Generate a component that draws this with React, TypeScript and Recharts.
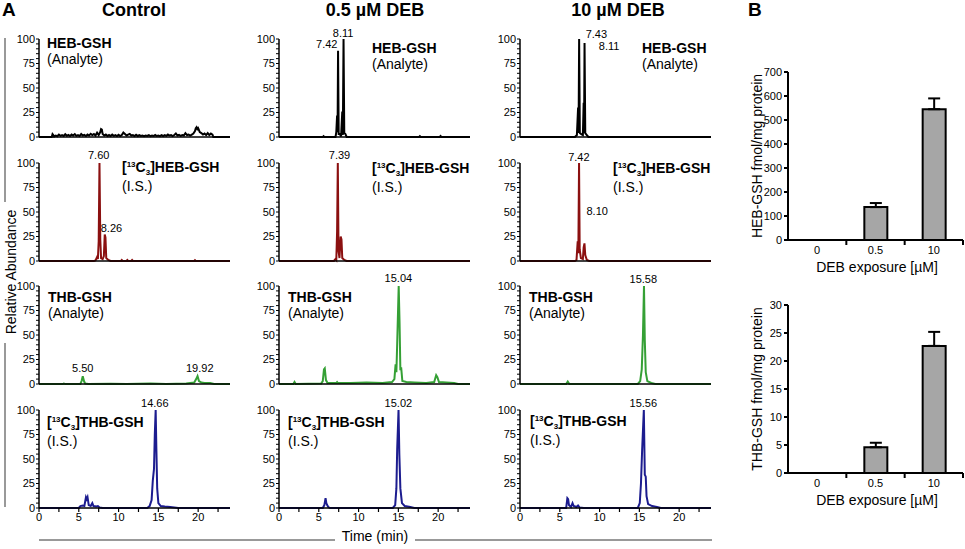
import React from 'react';
import { LineChart, Line, XAxis, YAxis, ReferenceDot, BarChart, Bar, ErrorBar } from 'recharts';

const FONT = 'Arial, "Liberation Sans", sans-serif';

const CONDITIONS = ['Control', '0.5 µM DEB', '10 µM DEB'];
const X_TICKS = [0, 2.5, 5, 7.5, 10, 12.5, 15, 17.5, 20, 22.5];
const Y_TICKS = [0, 5, 10, 15, 20, 25, 30, 35, 40, 45, 50, 55, 60, 65, 70, 75, 80, 85, 90, 95, 100];

// [time (min), relative abundance (%)]
const ctlHeb = [[0,0],[1.6,0],[1.7,3],[1.8,2],[1.9,0.5],[2.1,1.5],[2.3,0.8],[2.5,2.5],[2.7,1.2],[2.9,2],[3.1,1],[3.3,2.8],[3.5,1.2],[3.7,2.2],[3.9,1],[4.1,2.5],[4.3,1.5],[4.5,3],[4.7,1.2],[4.9,2],[5.1,1],[5.3,3],[5.5,1.5],[5.7,2.2],[5.9,1],[6.1,2.5],[6.3,1.5],[6.5,3.2],[6.7,2],[6.9,3],[7.1,1.5],[7.3,4.5],[7.5,2],[7.7,5],[7.8,8],[7.9,7.5],[8.0,3],[8.2,1.5],[8.4,2.5],[8.6,1],[8.8,2],[9.0,1],[9.2,2.5],[9.4,1.2],[9.6,2],[9.8,1],[10.0,2.2],[10.2,1],[10.4,2],[10.6,4.5],[10.8,3],[11.0,1.5],[11.2,2.5],[11.4,3.2],[11.6,1.5],[11.8,2],[12.0,1],[12.2,2.2],[12.4,1],[12.6,1.8],[12.8,1],[13.0,1.5],[13.2,0.8],[13.4,1.5],[13.6,1],[13.8,1.8],[14.0,0.8],[14.2,1.5],[14.4,1],[14.6,2],[14.8,1],[15.0,1.5],[15.2,0.8],[15.4,1.8],[15.6,1],[15.8,2],[16.0,1.2],[16.2,2.5],[16.4,1.5],[16.6,2],[16.8,1],[17.0,2],[17.2,3.5],[17.4,1.5],[17.6,2.2],[17.8,1.2],[18.0,2],[18.2,1.5],[18.4,4],[18.6,2],[18.8,2.5],[19.0,1.5],[19.2,2.5],[19.4,3.5],[19.6,6],[19.7,9],[19.8,10],[19.9,8],[20.0,9],[20.2,5],[20.4,4],[20.6,2.5],[20.8,3.5],[21.0,2],[21.2,4],[21.4,2],[21.6,3.5],[21.8,2.5],[21.9,0],[24,0]];
const ctlHebIs = [[0,0],[6.9,0],[7.1,0.5],[7.3,4],[7.4,2],[7.5,20],[7.6,100],[7.7,22],[7.8,3],[8.0,2],[8.15,5],[8.26,27],[8.35,24],[8.45,3],[8.7,1],[9.0,0],[10.3,0],[10.4,1],[10.5,0],[11.0,0],[11.1,1],[11.2,0],[11.6,0],[11.7,1],[11.8,0],[19.5,0],[19.6,0.8],[19.7,0],[24,0]];
const ctlThb = [[0,0],[3.0,0],[3.1,0.5],[3.3,0],[5.2,0],[5.35,3],[5.5,8],[5.65,3],[5.8,0.5],[6.2,0],[9,0.3],[11,0],[14,0.4],[16,0],[18.5,0.5],[19.0,1],[19.5,1.5],[19.75,5],[19.92,8],[20.1,3],[20.4,1.5],[20.8,1],[21.5,1],[22,0],[24,0]];
const ctlThbIs = [[0,0],[5.0,0],[5.2,2],[5.5,2.5],[5.7,2],[5.9,11],[6.0,9],[6.1,11],[6.25,3],[6.5,2],[6.7,5],[6.85,2],[7.2,1.5],[7.4,2],[7.6,0.5],[8,0],[13.6,0],[13.9,2],[14.15,8],[14.3,28],[14.45,40],[14.55,75],[14.66,100],[14.75,60],[14.85,20],[15.0,5],[15.3,2],[15.8,1.5],[16.5,1],[17.0,0.5],[17.5,0],[24,0]];

const lowHeb = [[0,0],[5.5,0],[5.6,0.8],[5.7,0],[6.9,0],[7.1,0],[7.2,5],[7.3,22],[7.36,5],[7.42,88],[7.5,3],[7.65,3],[7.8,0.5],[7.95,26],[8.02,2],[8.11,100],[8.2,4],[8.35,3],[8.5,0],[17.6,0],[17.7,0.8],[17.8,0],[20.2,0],[20.3,1],[20.4,0],[24,0]];
const lowHebIs = [[0,0],[6.9,0],[7.1,2],[7.2,1],[7.3,30],[7.39,100],[7.48,10],[7.6,3],[7.75,25],[7.85,22],[7.95,3],[8.2,1],[8.5,0],[24,0]];
const lowThb = [[0,0],[1.8,0],[1.95,2],[2.1,0],[5.3,0.5],[5.5,3],[5.65,15],[5.75,16],[5.9,4],[6.1,1],[7.2,1],[7.3,2],[7.4,1],[9,1],[11,1.5],[13,1],[14.2,2],[14.5,5],[14.65,20],[14.75,12],[14.85,41],[15.04,100],[15.15,62],[15.25,14],[15.35,17],[15.5,3],[16,2],[17,1.5],[18.5,1],[19.5,2],[19.75,9],[19.9,7],[20.1,2],[21,1.5],[22,1],[22.5,0],[24,0]];
const lowThbIs = [[0,0],[5.5,0],[5.7,3],[5.85,10],[5.95,5],[6.05,3],[6.2,1],[6.4,0],[14.3,0],[14.6,3],[14.75,20],[14.85,60],[15.02,100],[15.12,55],[15.25,20],[15.45,5],[15.8,2],[16.5,1],[17,0],[24,0]];

const highHeb = [[0,0],[6.9,0],[7.15,2],[7.3,30],[7.36,4],[7.43,100],[7.52,4],[7.7,3],[7.9,2],[8.0,35],[8.05,4],[8.11,96],[8.2,4],[8.4,2],[8.6,0],[24,0]];
const highHebIs = [[0,0],[6.9,0],[7.1,1],[7.25,20],[7.33,8],[7.42,100],[7.5,12],[7.65,3],[7.9,2],[8.0,14],[8.1,18],[8.2,6],[8.4,1],[8.7,0],[24,0]];
const highThb = [[0,0],[5.8,0],[6.0,2.5],[6.2,0],[14.8,0],[15.1,3],[15.3,15],[15.45,50],[15.58,100],[15.68,45],[15.8,12],[16.0,3],[16.5,1],[17,0],[24,0]];
const highThbIs = [[0,0],[5.8,0],[5.95,10],[6.05,9],[6.15,3],[6.4,1],[6.6,5],[6.75,2],[7.1,1],[7.3,2.5],[7.5,0.5],[8,0],[14.8,0],[15.05,5],[15.2,25],[15.35,60],[15.56,100],[15.68,34],[15.8,32],[15.9,12],[16.1,4],[16.6,2],[17.2,1],[17.7,0],[24,0]];

// peak labels: text drawn centred at [time, abundance]
const ctlLabels = [[], [[7.5, 108, '7.60'], [9.1, 34, '8.26']], [[5.5, 16, '5.50'], [20.2, 16, '19.92']], [[14.55, 107, '14.66']]];
const lowLabels = [[[6.0, 95, '7.42'], [8.05, 106, '8.11']], [[7.6, 108, '7.39']], [[15.0, 108, '15.04']], [[15.0, 107, '15.02']]];
const highLabels = [[[9.6, 105, '7.43'], [11.2, 93, '8.11']], [[7.4, 106, '7.42'], [9.7, 51, '8.10']], [[15.5, 107, '15.58']], [[15.5, 107, '15.56']]];

const TRACES = [[ctlHeb, ctlHebIs, ctlThb, ctlThbIs], [lowHeb, lowHebIs, lowThb, lowThbIs], [highHeb, highHebIs, highThb, highThbIs]];
const LABELS = [ctlLabels, lowLabels, highLabels];
const ROW_COLORS = ['#000000', '#8b1010', '#35a035', '#1c1c8f'];
const ROW_NAMES = ['HEB-GSH', 'HEB-GSH', 'THB-GSH', 'THB-GSH'];
const ROW_SUBS = ['(Analyte)', '(I.S.)', '(Analyte)', '(I.S.)'];

// panel B
const DOSES = ['0', '0.5', '10'];
const HEB_AMOUNT = [0, 137, 545];
const HEB_ERR = [0, 17, 45];
const THB_AMOUNT = [0, 4.6, 22.7];
const THB_ERR = [0, 0.8, 2.5];
const HEB_TICKS = [0, 100, 200, 300, 400, 500, 600, 700];
const THB_TICKS = [0, 5, 10, 15, 20, 25, 30];

const COL_X = [39, 279, 520];
const ROW_Y = [39, 163, 286, 410];
const NAME_POS = [
  [[47, 43], [122, 167], [48, 297], [47, 422]],
  [[372, 48], [372, 168], [288, 297], [288, 422]],
  [[642, 48], [613, 168], [529, 297], [530, 421]],
];

const Chromatogram = ({ col, row }) => {
  const x0 = COL_X[col];
  const top = ROW_Y[row];
  const last = row === 3;
  const data = TRACES[col][row].map(([t, v]) => ({ t, v }));
  const ML = 32, MT = 18, PW = 191, PH = 98;
  const XH = last ? 22 : 8;
  return (
    <div style={{ position: 'absolute', left: x0 - ML, top: top - MT }}>
      <LineChart width={ML + PW + 4} height={MT + PH + XH} data={data} margin={{ top: MT, right: 4, left: 0, bottom: 0 }}>
        <XAxis dataKey="t" type="number" domain={[0, 24]} ticks={X_TICKS} interval={0} allowDataOverflow height={XH}
          tick={last ? { fontSize: 11, fill: '#000', fontFamily: FONT } : false}
          tickLine={last ? { stroke: '#000', strokeWidth: 1.2 } : false} tickSize={4} tickMargin={1}
          tickFormatter={(t) => (t % 5 === 0 ? String(t) : '')}
          axisLine={{ stroke: '#000', strokeWidth: 1.5 }} />
        <YAxis type="number" domain={[0, 100]} ticks={Y_TICKS} interval={0} width={ML} tickSize={3} tickMargin={1}
          tick={{ fontSize: 11, fill: '#000', fontFamily: FONT }}
          tickFormatter={(v) => (v % 25 === 0 ? String(v) : '')}
          tickLine={{ stroke: '#000', strokeWidth: 1 }} axisLine={{ stroke: '#000', strokeWidth: 1.5 }} />
        <Line type="linear" dataKey="v" stroke={ROW_COLORS[row]} strokeWidth={2} dot={false} isAnimationActive={false} />
        {LABELS[col][row].map(([t, v, text]) => (
          <ReferenceDot key={text} x={t} y={v} r={0} fill="none" stroke="none" ifOverflow="visible"
            label={{ value: text, position: 'center', fontSize: 11, fill: '#000', fontFamily: FONT }} />
        ))}
      </LineChart>
    </div>
  );
};

const TraceName = ({ col, row }) => {
  const [x, y] = NAME_POS[col][row];
  const isStd = row % 2 === 1;
  return (
    <div style={{ position: 'absolute', left: x, top: y - 8, fontSize: 14, lineHeight: '16px', whiteSpace: 'nowrap', color: '#000' }}>
      <div style={{ fontWeight: 'bold' }}>
        {isStd && (
          <span>[<span style={{ fontSize: 8, position: 'relative', top: -5 }}>13</span>C<span style={{ fontSize: 8, position: 'relative', top: 3 }}>3</span>]</span>
        )}
        {ROW_NAMES[row]}
      </div>
      <div>{ROW_SUBS[row]}</div>
    </div>
  );
};

const BAND = 175 / 3;

const DoseTick = (props) => {
  const { x, y, payload } = props;
  return (
    <g>
      <text x={x} y={y + 14} textAnchor="middle" fontSize={11} fill="#000" fontFamily={FONT}>{payload.value}</text>
      <line x1={x + BAND / 2} x2={x + BAND / 2} y1={y} y2={y + 5} stroke="#000" strokeWidth={2} />
    </g>
  );
};

const AmountChart = ({ top, values, errors, ticks, yTitle }) => {
  const data = DOSES.map((d, i) => ({ dose: d, amount: values[i], err: [0, errors[i]] }));
  const max = ticks[ticks.length - 1];
  return (
    <>
      <div style={{ position: 'absolute', left: 740, top: top - 12 }}>
        <BarChart width={225} height={12 + 168 + 30} data={data} margin={{ top: 12, right: 2, left: 0, bottom: 0 }}>
          <XAxis dataKey="dose" height={30} tickLine={false} tickSize={0} tickMargin={0} interval={0}
            axisLine={{ stroke: '#000', strokeWidth: 2 }} tick={DoseTick} />
          <YAxis type="number" domain={[0, max]} ticks={ticks} interval={0} width={48} tickSize={4} tickMargin={2}
            tick={{ fontSize: 11, fill: '#000', fontFamily: FONT }}
            tickLine={{ stroke: '#000', strokeWidth: 2 }} axisLine={{ stroke: '#000', strokeWidth: 2 }} />
          <Bar dataKey="amount" fill="#a6a6a6" stroke="#000" strokeWidth={2} barSize={23} isAnimationActive={false}>
            <ErrorBar dataKey="err" direction="y" width={6} stroke="#000" strokeWidth={2} />
          </Bar>
        </BarChart>
      </div>
      <div style={{ position: 'absolute', left: 877, top: top + 195, transform: 'translate(-50%, -50%)', fontSize: 14, whiteSpace: 'nowrap' }}>
        DEB exposure [µM]
      </div>
      <div style={{ position: 'absolute', left: 757, top: top + 84, transform: 'translate(-50%, -50%) rotate(-90deg)', fontSize: 14, whiteSpace: 'nowrap' }}>
        {yTitle}
      </div>
    </>
  );
};

export default function App() {
  const cells = [];
  for (let c = 0; c < 3; c++) {
    for (let r = 0; r < 4; r++) {
      cells.push(<Chromatogram key={`c${c}${r}`} col={c} row={r} />);
      cells.push(<TraceName key={`n${c}${r}`} col={c} row={r} />);
    }
  }
  const titleX = [134, 375, 618];
  return (
    <div style={{ position: 'absolute', left: 0, top: 0, width: 965, height: 549, background: '#fff', fontFamily: FONT, color: '#000', overflow: 'hidden' }}>
      <div style={{ position: 'absolute', left: 2, top: 0, fontSize: 19, lineHeight: '19px', fontWeight: 'bold' }}>A</div>
      <div style={{ position: 'absolute', left: 748, top: 0, fontSize: 19, lineHeight: '19px', fontWeight: 'bold' }}>B</div>
      {CONDITIONS.map((t, i) => (
        <div key={t} style={{ position: 'absolute', left: titleX[i], top: 10, transform: 'translate(-50%, -50%)', fontSize: 18, lineHeight: '20px', fontWeight: 'bold', whiteSpace: 'nowrap' }}>{t}</div>
      ))}
      {cells}
      <div style={{ position: 'absolute', left: 4, top: 38, width: 2, height: 164, background: '#999' }} />
      <div style={{ position: 'absolute', left: 4, top: 343, width: 2, height: 164, background: '#999' }} />
      <div style={{ position: 'absolute', left: 11, top: 272, transform: 'translate(-50%, -50%) rotate(-90deg)', fontSize: 14, whiteSpace: 'nowrap' }}>Relative Abundance</div>
      <div style={{ position: 'absolute', left: 39, top: 539, width: 296, height: 2, background: '#999' }} />
      <div style={{ position: 'absolute', left: 415, top: 539, width: 297, height: 2, background: '#999' }} />
      <div style={{ position: 'absolute', left: 375, top: 536, transform: 'translate(-50%, -50%)', fontSize: 14, whiteSpace: 'nowrap' }}>Time (min)</div>
      <AmountChart top={72} values={HEB_AMOUNT} errors={HEB_ERR} ticks={HEB_TICKS} yTitle="HEB-GSH fmol/mg protein" />
      <AmountChart top={305} values={THB_AMOUNT} errors={THB_ERR} ticks={THB_TICKS} yTitle="THB-GSH fmol/mg protein" />
    </div>
  );
}
